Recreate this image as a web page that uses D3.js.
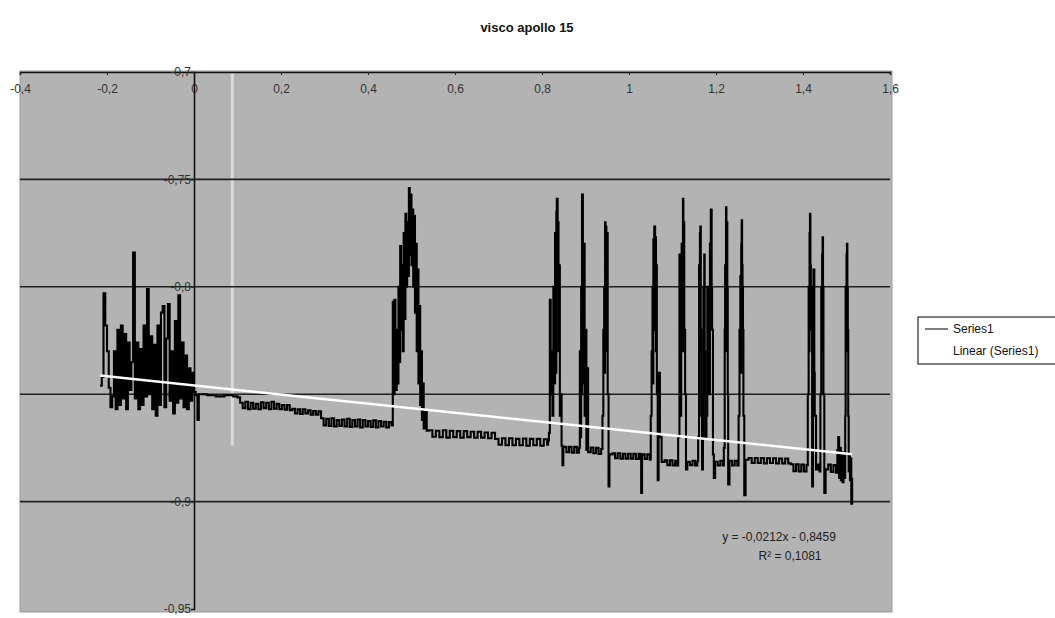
<!DOCTYPE html>
<html>
<head>
<meta charset="utf-8">
<script src="https://cdn.jsdelivr.net/npm/d3@7.9.0/dist/d3.min.js"></script>
<style>
  body { margin: 0; background: #fff; }
  svg { display: block; font-family: Arial, 'Liberation Sans', sans-serif; }
</style>
</head>
<body>
<svg id="chart" width="1055" height="618"></svg>
<script>
// === Data ===
const chartTitle = 'visco apollo 15';
const xTicks = [-0.4, -0.2, 0, 0.2, 0.4, 0.6, 0.8, 1, 1.2, 1.4, 1.6];
const yTicks = [-0.7, -0.75, -0.8, -0.85, -0.9, -0.95];
const gridValues = [-0.75, -0.8, -0.85, -0.9];
const legendLabels = ['Series1', 'Linear (Series1)'];
const trendSlope = -0.0212;
const trendIntercept = -0.8459;
const trendText = ['y = -0,0212x - 0,8459', 'R² = 0,1081'];

// noisy start, before x = 0
const series1Start = [
  [-0.216, -0.846], [-0.212, -0.842], [-0.208, -0.803], [-0.204, -0.818], [-0.200, -0.830],
  [-0.196, -0.847], [-0.192, -0.856], [-0.188, -0.851], [-0.184, -0.830], [-0.180, -0.857],
  [-0.176, -0.820], [-0.172, -0.855], [-0.168, -0.818], [-0.164, -0.852], [-0.160, -0.822],
  [-0.156, -0.857], [-0.152, -0.826], [-0.148, -0.848], [-0.144, -0.835], [-0.140, -0.784],
  [-0.136, -0.852], [-0.132, -0.826], [-0.128, -0.857], [-0.124, -0.829], [-0.120, -0.855],
  [-0.116, -0.818], [-0.112, -0.851], [-0.108, -0.801], [-0.104, -0.850], [-0.100, -0.823],
  [-0.096, -0.857], [-0.092, -0.827], [-0.088, -0.860], [-0.084, -0.818], [-0.080, -0.855],
  [-0.076, -0.812], [-0.072, -0.809], [-0.068, -0.856], [-0.064, -0.824], [-0.060, -0.808],
  [-0.056, -0.853], [-0.052, -0.830], [-0.048, -0.859], [-0.044, -0.816], [-0.040, -0.854],
  [-0.036, -0.804], [-0.032, -0.852], [-0.028, -0.826], [-0.024, -0.856], [-0.020, -0.832],
  [-0.016, -0.857], [-0.012, -0.838], [-0.008, -0.853], [-0.004, -0.840], [0.000, -0.849]
];

// slow stepped part, 0 .. 0.455
const series1Flat = [
  [0.004, -0.8505], [0.008, -0.862], [0.011, -0.850], [0.030, -0.8505], [0.050, -0.851],
  [0.070, -0.8505], [0.090, -0.851], [0.100, -0.8515], [0.106, -0.854], [0.112, -0.8565],
  [0.118, -0.8535], [0.124, -0.857], [0.130, -0.854], [0.136, -0.8568], [0.142, -0.8545],
  [0.148, -0.857], [0.154, -0.8538], [0.160, -0.8565], [0.166, -0.854], [0.172, -0.857],
  [0.178, -0.8535], [0.184, -0.8568], [0.190, -0.8545], [0.196, -0.857], [0.202, -0.855],
  [0.208, -0.8572], [0.214, -0.855], [0.220, -0.8575], [0.226, -0.8568], [0.232, -0.859],
  [0.238, -0.857], [0.244, -0.8592], [0.250, -0.857], [0.256, -0.859], [0.262, -0.8575],
  [0.268, -0.8595], [0.274, -0.8578], [0.280, -0.8595], [0.286, -0.858], [0.292, -0.8612],
  [0.298, -0.8645], [0.304, -0.8615], [0.310, -0.8648], [0.316, -0.8612], [0.322, -0.865],
  [0.328, -0.862], [0.334, -0.8648], [0.340, -0.8618], [0.346, -0.865], [0.352, -0.8615],
  [0.358, -0.8652], [0.364, -0.862], [0.370, -0.865], [0.376, -0.8618], [0.382, -0.8655],
  [0.388, -0.862], [0.394, -0.865], [0.400, -0.8625], [0.406, -0.8652], [0.412, -0.8622],
  [0.418, -0.8655], [0.424, -0.8625], [0.430, -0.865], [0.436, -0.8628], [0.442, -0.8655],
  [0.448, -0.863], [0.454, -0.8645]
];

// big cluster around 0.5, then the band up to 0.81
const series1Cluster = [
  [0.457, -0.807], [0.459, -0.850], [0.461, -0.806], [0.463, -0.848], [0.466, -0.820],
  [0.468, -0.845], [0.470, -0.800], [0.472, -0.835], [0.474, -0.781], [0.476, -0.820],
  [0.478, -0.790], [0.480, -0.830], [0.482, -0.775], [0.484, -0.815], [0.486, -0.766],
  [0.488, -0.800], [0.490, -0.770], [0.492, -0.795], [0.494, -0.754], [0.496, -0.785],
  [0.498, -0.757], [0.500, -0.790], [0.502, -0.764], [0.504, -0.800], [0.506, -0.767],
  [0.508, -0.812], [0.510, -0.780], [0.512, -0.830], [0.514, -0.792], [0.516, -0.845],
  [0.518, -0.809], [0.520, -0.855], [0.522, -0.830], [0.524, -0.862], [0.526, -0.845],
  [0.528, -0.866], [0.531, -0.858], [0.535, -0.867], [0.540, -0.8668], [0.548, -0.8698],
  [0.556, -0.867], [0.564, -0.870], [0.572, -0.8668], [0.580, -0.8702], [0.588, -0.867],
  [0.596, -0.870], [0.604, -0.8672], [0.612, -0.8702], [0.620, -0.8672], [0.628, -0.870],
  [0.636, -0.8675], [0.644, -0.8703], [0.652, -0.8675], [0.660, -0.8702], [0.668, -0.8678],
  [0.676, -0.8705], [0.684, -0.868], [0.692, -0.8708], [0.700, -0.8735], [0.708, -0.8705],
  [0.716, -0.8738], [0.724, -0.8705], [0.732, -0.8738], [0.740, -0.8708], [0.748, -0.8738],
  [0.756, -0.8706], [0.764, -0.874], [0.772, -0.8708], [0.780, -0.8738], [0.788, -0.8708],
  [0.796, -0.874], [0.804, -0.871], [0.812, -0.8735]
];

// tall spikes, 0.81 .. 1.51
const series1Spikes = [
  [0.814, -0.8715], [0.816, -0.868], [0.818, -0.806], [0.820, -0.850], [0.822, -0.830],
  [0.824, -0.860], [0.826, -0.800], [0.828, -0.845], [0.830, -0.775], [0.832, -0.840],
  [0.833, -0.765], [0.834, -0.759], [0.836, -0.800], [0.837, -0.770], [0.838, -0.830],
  [0.840, -0.790], [0.841, -0.860], [0.843, -0.850], [0.845, -0.874], [0.847, -0.883],
  [0.849, -0.8745], [0.856, -0.877], [0.862, -0.8745], [0.868, -0.8772], [0.874, -0.8745],
  [0.880, -0.8772], [0.885, -0.875], [0.887, -0.830], [0.889, -0.870], [0.890, -0.800],
  [0.891, -0.850], [0.892, -0.757], [0.894, -0.790], [0.895, -0.845], [0.896, -0.780],
  [0.898, -0.860], [0.900, -0.820], [0.902, -0.876], [0.904, -0.838], [0.906, -0.877],
  [0.912, -0.8748], [0.918, -0.8775], [0.924, -0.875], [0.930, -0.8778], [0.936, -0.8755],
  [0.939, -0.860], [0.941, -0.820], [0.943, -0.800], [0.944, -0.840], [0.945, -0.770],
  [0.946, -0.800], [0.947, -0.772], [0.948, -0.830], [0.949, -0.775], [0.951, -0.850],
  [0.953, -0.893], [0.955, -0.878], [0.962, -0.8775], [0.968, -0.8798], [0.974, -0.8775],
  [0.980, -0.880], [0.986, -0.8778], [0.992, -0.880], [0.998, -0.8778], [1.004, -0.880],
  [1.010, -0.8778], [1.016, -0.8802], [1.022, -0.8778], [1.026, -0.880], [1.028, -0.896],
  [1.030, -0.878], [1.036, -0.8802], [1.042, -0.878], [1.048, -0.8805], [1.050, -0.860],
  [1.052, -0.830], [1.054, -0.800], [1.055, -0.845], [1.056, -0.778], [1.057, -0.820],
  [1.058, -0.772], [1.060, -0.810], [1.061, -0.777], [1.062, -0.830], [1.063, -0.790],
  [1.064, -0.850], [1.066, -0.890], [1.068, -0.840], [1.071, -0.870], [1.075, -0.8815],
  [1.082, -0.8808], [1.088, -0.883], [1.094, -0.8808], [1.100, -0.8832], [1.106, -0.881],
  [1.111, -0.8832], [1.113, -0.870], [1.116, -0.785], [1.118, -0.860], [1.120, -0.800],
  [1.121, -0.780], [1.122, -0.830], [1.124, -0.759], [1.125, -0.790], [1.126, -0.770],
  [1.127, -0.820], [1.129, -0.850], [1.131, -0.885], [1.134, -0.8815], [1.140, -0.883],
  [1.146, -0.881], [1.152, -0.8832], [1.157, -0.8812], [1.159, -0.870], [1.161, -0.790],
  [1.162, -0.830], [1.163, -0.775], [1.164, -0.772], [1.165, -0.820], [1.166, -0.860],
  [1.168, -0.885], [1.170, -0.850], [1.171, -0.800], [1.172, -0.840], [1.173, -0.785],
  [1.174, -0.830], [1.175, -0.870], [1.178, -0.860], [1.180, -0.800], [1.182, -0.840],
  [1.184, -0.850], [1.186, -0.780], [1.187, -0.800], [1.188, -0.764], [1.190, -0.800],
  [1.191, -0.820], [1.193, -0.878], [1.195, -0.889], [1.198, -0.8815], [1.204, -0.8832],
  [1.210, -0.881], [1.216, -0.8832], [1.218, -0.875], [1.220, -0.820], [1.221, -0.790],
  [1.222, -0.830], [1.223, -0.763], [1.224, -0.780], [1.225, -0.770], [1.226, -0.800],
  [1.227, -0.850], [1.228, -0.892], [1.231, -0.881], [1.237, -0.8832], [1.243, -0.881],
  [1.249, -0.8832], [1.252, -0.860], [1.254, -0.820], [1.256, -0.795], [1.257, -0.840],
  [1.258, -0.780], [1.259, -0.769], [1.260, -0.790], [1.261, -0.800], [1.262, -0.820],
  [1.263, -0.860], [1.265, -0.897], [1.268, -0.8805], [1.275, -0.8797], [1.282, -0.882],
  [1.289, -0.8797], [1.296, -0.882], [1.303, -0.8797], [1.310, -0.8822], [1.317, -0.8798],
  [1.324, -0.882], [1.331, -0.8798], [1.338, -0.8822], [1.345, -0.880], [1.352, -0.8822],
  [1.359, -0.880], [1.366, -0.8822], [1.372, -0.8826], [1.378, -0.8858], [1.384, -0.8826],
  [1.390, -0.886], [1.396, -0.8828], [1.402, -0.886], [1.408, -0.883], [1.411, -0.850],
  [1.413, -0.800], [1.414, -0.830], [1.415, -0.775], [1.416, -0.766], [1.417, -0.790],
  [1.418, -0.820], [1.419, -0.800], [1.421, -0.893], [1.423, -0.820], [1.424, -0.792],
  [1.426, -0.840], [1.427, -0.860], [1.430, -0.885], [1.434, -0.8828], [1.438, -0.886],
  [1.440, -0.850], [1.442, -0.800], [1.443, -0.830], [1.444, -0.785], [1.445, -0.777],
  [1.446, -0.800], [1.447, -0.850], [1.449, -0.896], [1.452, -0.885], [1.458, -0.8828],
  [1.464, -0.8862], [1.470, -0.883], [1.476, -0.8865], [1.479, -0.876], [1.481, -0.870],
  [1.483, -0.889], [1.485, -0.875], [1.487, -0.890], [1.489, -0.877], [1.491, -0.891],
  [1.493, -0.878], [1.495, -0.889], [1.497, -0.860], [1.498, -0.800], [1.499, -0.830],
  [1.500, -0.785], [1.501, -0.780], [1.502, -0.800], [1.503, -0.820], [1.504, -0.860],
  [1.505, -0.886], [1.507, -0.878], [1.508, -0.890], [1.510, -0.880], [1.511, -0.901],
  [1.513, -0.889]
];

const series1 = [...series1Start, ...series1Flat, ...series1Cluster, ...series1Spikes];

// === Layout ===
const svg = d3.select('#chart');
const plot = { left: 20, right: 892, top: 71, bottom: 612 };

const x = d3.scaleLinear().domain([-0.4, 1.6]).range([20, 890]);
const y = d3.scaleLinear().domain([-0.7, -0.95]).range([72, 609]);
const fmt = (d) => String(d).replace('.', ',');

// title
svg.append('text')
  .attr('x', 527).attr('y', 32)
  .attr('text-anchor', 'middle')
  .attr('font-size', 13).attr('font-weight', 'bold')
  .attr('fill', '#111')
  .text(chartTitle);

// plot area
svg.append('rect')
  .attr('x', plot.left).attr('y', plot.top)
  .attr('width', plot.right - plot.left).attr('height', plot.bottom - plot.top)
  .attr('fill', '#b3b3b3')
  .attr('stroke', '#9a9a9a');

// pale vertical streak from the scan
svg.append('line')
  .attr('x1', x(0.088)).attr('x2', x(0.088))
  .attr('y1', y(-0.7)).attr('y2', y(-0.874))
  .attr('stroke', '#e6e6e6').attr('stroke-width', 3).attr('opacity', 0.8);

// gridlines
svg.append('g')
  .selectAll('line')
  .data(gridValues)
  .join('line')
  .attr('x1', x(-0.4)).attr('x2', x(1.6))
  .attr('y1', (d) => y(d)).attr('y2', (d) => y(d))
  .attr('stroke', '#202020').attr('stroke-width', 1.6);

// x axis along the top
const xAxis = svg.append('g')
  .attr('transform', `translate(0,${y(-0.7)})`)
  .call(d3.axisBottom(x).tickValues(xTicks).tickSize(3).tickFormat(fmt));
xAxis.select('.domain').attr('stroke', '#111').attr('stroke-width', 1.6);
xAxis.selectAll('.tick line').attr('stroke', '#222');
xAxis.selectAll('.tick text')
  .attr('dy', 0).attr('y', 21)
  .attr('font-size', 12).attr('fill', '#333')
  .attr('font-family', "Arial, 'Liberation Sans', sans-serif");

// y axis at x = 0
const yAxis = svg.append('g')
  .attr('transform', `translate(${x(0)},0)`)
  .call(d3.axisLeft(y).tickValues(yTicks).tickSize(3).tickFormat(fmt));
yAxis.select('.domain').attr('stroke', '#111').attr('stroke-width', 1.6);
yAxis.selectAll('.tick line').attr('stroke', '#222');
yAxis.selectAll('.tick text')
  .attr('x', -3)
  .attr('font-size', 12).attr('fill', '#333')
  .attr('font-family', "Arial, 'Liberation Sans', sans-serif");

// === Series1 ===
// the scanned trace is blocky, so a step curve reads closer than straight joins
const line = d3.line().x((d) => x(d[0])).y((d) => y(d[1]));
const stepLine = d3.line().curve(d3.curveStepAfter).x((d) => x(d[0])).y((d) => y(d[1]));
svg.append('path')
  .datum(series1)
  .attr('d', stepLine)
  .attr('fill', 'none')
  .attr('stroke', '#000')
  .attr('stroke-width', 2.1);

// === Linear trendline ===
const xExtent = d3.extent(series1, (d) => d[0]);
const trend = xExtent.map((v) => [v, trendSlope * v + trendIntercept]);
svg.append('path')
  .datum(trend)
  .attr('d', line)
  .attr('stroke', '#fff')
  .attr('stroke-width', 2.5);

// equation label
svg.append('g')
  .selectAll('text')
  .data(trendText)
  .join('text')
  .attr('x', (d, i) => i === 0 ? 779 : 790)
  .attr('y', (d, i) => 541 + i * 19)
  .attr('text-anchor', 'middle')
  .attr('font-size', 12).attr('fill', '#222')
  .text((d) => d);

// === Legend ===
const legend = svg.append('g').attr('transform', 'translate(918,317)');
legend.append('rect')
  .attr('width', 142).attr('height', 47)
  .attr('fill', '#fff').attr('stroke', '#000');
legendLabels.forEach((label, i) => {
  const ly = 12 + i * 22;
  legend.append('line')
    .attr('x1', 7).attr('x2', 30)
    .attr('y1', ly).attr('y2', ly)
    .attr('stroke', i === 0 ? '#000' : '#fff')
    .attr('stroke-width', i === 0 ? 1 : 2);
  legend.append('text')
    .attr('x', 35).attr('y', ly + 4)
    .attr('font-size', 12).attr('fill', '#111')
    .text(label);
});
</script>
</body>
</html>
